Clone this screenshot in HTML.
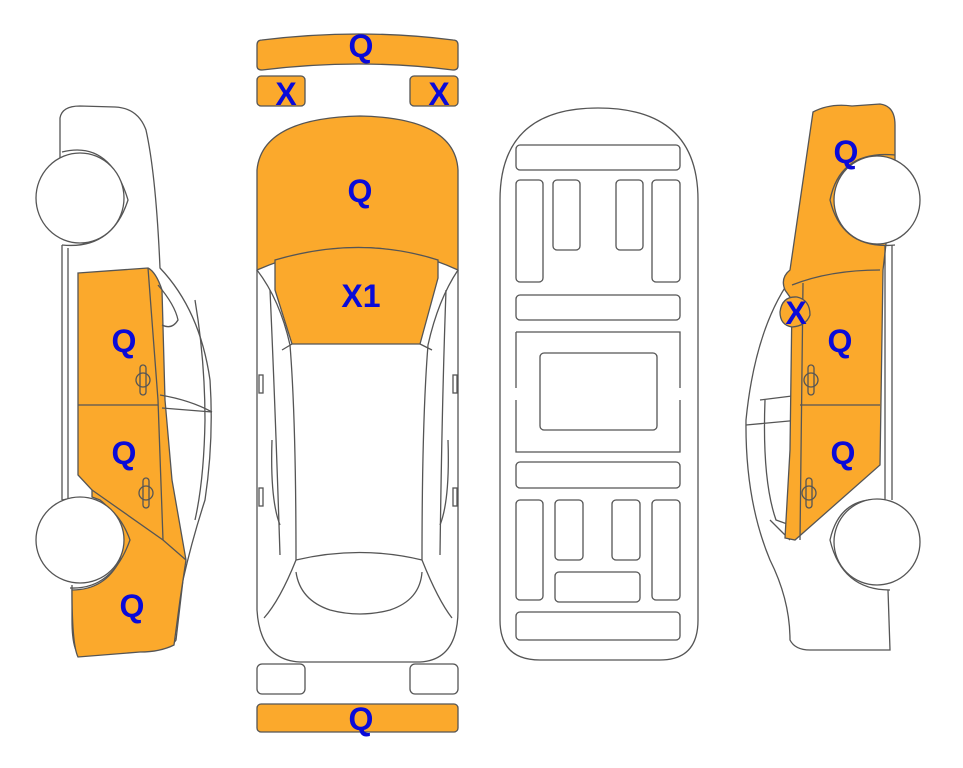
<!DOCTYPE html>
<html><head><style>
html,body{margin:0;padding:0;background:#fff;}
svg{display:block;}
text{font-family:"Liberation Sans",Arial,sans-serif;font-weight:bold;font-size:32px;fill:#0a0ad8;text-anchor:middle;}
</style></head><body>
<svg width="963" height="768" viewBox="0 0 963 768" xmlns="http://www.w3.org/2000/svg">
<g fill="none" stroke="#555" stroke-width="1.3">

<!-- ===== LEFT CAR ===== -->
<path d="M60,160 L60,118 Q62,106 80,106 L115,107 Q138,108 146,130 Q156,175 160,268 Q200,310 210,380 Q214,440 205,500 Q192,540 183,580 L176,640 Q170,650 150,650 L80,656 Q72,650 72,620 L72,585"/>
<path fill="#fba92c" d="M78,273 L148,268 Q156,272 162,290 L165,400 L172,480 L186,560 L180,600 L174,645 Q160,652 140,652 L78,657 Q72,645 72,590 Q105,590 120,560 Q126,520 100,500 L92,497 L92,490 L78,475 Z"/>
<path d="M148,268 L158,400 L163,540"/>
<path d="M78,405 L158,405"/>
<path d="M92,490 L163,540 L186,560"/>
<path d="M158,285 Q175,305 178,320 Q172,330 162,325"/>
<path d="M160,395 Q190,400 212,412 M162,408 L212,412"/>
<path d="M195,300 Q205,360 205,420 Q204,480 195,520"/>
<rect x="140" y="365" width="6" height="30" rx="3"/><path d="M136,380 a7,7 0 0 1 14,0 a7,7 0 0 1 -14,0"/>
<rect x="143" y="478" width="6" height="30" rx="3"/><path d="M139,493 a7,7 0 0 1 14,0 a7,7 0 0 1 -14,0"/>
<path d="M62,245 L62,500 M68,248 L68,500"/>
<path d="M62,152 Q110,140 128,200 Q112,250 62,245"/>
<ellipse cx="80" cy="198" rx="44" ry="45" fill="#fff"/>
<path d="M62,500 Q112,490 130,540 Q112,590 70,588"/>
<ellipse cx="80" cy="540" rx="44" ry="43" fill="#fff"/>

<!-- ===== CENTER CAR ===== -->
<path fill="#fba92c" d="M257,45 Q257,40 262,40 Q360,28 453,40 Q458,40 458,45 L458,66 Q458,70 453,70 Q360,58 262,70 Q257,70 257,66 Z"/>
<rect x="257" y="76" width="48" height="30" rx="4" fill="#fba92c"/>
<rect x="410" y="76" width="48" height="30" rx="4" fill="#fba92c"/>
<path fill="#fba92c" d="M257,270 L257,170 Q262,118 360,116 Q455,118 458,170 L458,270 Q360,225 257,270 Z"/>
<path fill="#fba92c" d="M275,260 Q360,235 438,260 L438,278 L420,344 L292,344 L275,290 Z"/>
<path d="M257,270 L257,610 Q260,660 300,662 L420,662 Q458,660 458,610 L458,270"/>
<path d="M257,270 Q280,300 290,345 Q296,420 296,560 Q280,600 264,618"/>
<path d="M458,270 Q438,300 428,345 Q422,420 422,560 Q438,600 452,618"/>
<path d="M270,290 Q275,400 280,555 M446,290 Q442,400 440,555"/>
<path d="M292,344 L282,350 M420,344 L432,350"/>
<path d="M296,560 Q360,545 422,560 M296,572 Q300,600 330,610 Q360,618 390,610 Q420,600 422,572"/>
<path d="M280,525 Q270,500 272,440 M440,525 Q450,500 448,440"/>
<rect x="259" y="375" width="4" height="18"/><rect x="453" y="375" width="4" height="18"/>
<rect x="259" y="488" width="4" height="18"/><rect x="453" y="488" width="4" height="18"/>
<rect x="257" y="664" width="48" height="30" rx="5"/>
<rect x="410" y="664" width="48" height="30" rx="5"/>
<rect x="257" y="704" width="201" height="28" rx="4" fill="#fba92c"/>

<!-- ===== FLOOR PLAN ===== -->
<path d="M500,200 Q500,108 598,108 Q698,108 698,200 L698,620 Q698,660 660,660 L540,660 Q500,660 500,620 Z"/>
<rect x="516" y="145" width="164" height="25" rx="4"/>
<rect x="516" y="180" width="27" height="102" rx="4"/>
<rect x="553" y="180" width="27" height="70" rx="4"/>
<rect x="616" y="180" width="27" height="70" rx="4"/>
<rect x="652" y="180" width="28" height="102" rx="4"/>
<rect x="516" y="295" width="164" height="25" rx="4"/>
<path d="M516,332 L680,332 L680,388 M516,332 L516,388 M516,400 L516,452 L680,452 L680,400"/>
<rect x="540" y="353" width="117" height="77" rx="4"/>
<rect x="516" y="462" width="164" height="26" rx="4"/>
<rect x="516" y="500" width="27" height="100" rx="4"/>
<rect x="555" y="500" width="28" height="60" rx="4"/>
<rect x="612" y="500" width="28" height="60" rx="4"/>
<rect x="652" y="500" width="28" height="100" rx="4"/>
<rect x="555" y="572" width="85" height="30" rx="4"/>
<rect x="516" y="612" width="164" height="28" rx="4"/>

<!-- ===== RIGHT CAR ===== -->
<path d="M790,280 Q755,330 746,420 Q745,500 770,560 Q790,600 790,640 Q795,650 810,650 L890,650 L888,590"/>
<path d="M790,540 L770,520 M760,400 L800,395 M746,425 L800,420"/>
<path d="M765,400 Q762,480 776,520 L790,525"/>
<path fill="#fba92c" d="M813,112 Q830,103 852,106 L880,104 Q895,106 895,125 L895,165 L883,270 L880,465 L795,540 L785,538 L790,450 L792,300 L785,290 Q780,278 790,270 Q800,200 813,112 Z"/>
<path d="M792,285 Q830,270 880,270 M803,283 L800,540 M800,405 L880,405"/>
<path fill="#fba92c" d="M780,312 Q782,296 797,297 Q810,300 810,315 Q806,326 792,327 Q780,325 780,312 Z"/>
<rect x="808" y="365" width="6" height="30" rx="3"/><path d="M804,380 a7,7 0 0 1 14,0 a7,7 0 0 1 -14,0"/>
<rect x="806" y="478" width="6" height="30" rx="3"/><path d="M802,493 a7,7 0 0 1 14,0 a7,7 0 0 1 -14,0"/>
<path d="M885,245 L885,500 M892,245 L892,500"/>
<path d="M895,155 Q840,150 830,200 Q842,250 895,245"/>
<ellipse cx="877" cy="200" rx="43" ry="44" fill="#fff"/>
<path d="M885,500 Q840,495 830,540 Q842,590 890,590"/>
<ellipse cx="877" cy="542" rx="43" ry="43" fill="#fff"/>
</g>

<text x="124" y="352">Q</text>
<text x="124" y="464">Q</text>
<text x="132" y="617">Q</text>
<text x="361" y="57">Q</text>
<text x="286" y="105">X</text>
<text x="439" y="105">X</text>
<text x="360" y="202">Q</text>
<text x="361" y="307">X1</text>
<text x="361" y="730">Q</text>
<text x="846" y="163">Q</text>
<text x="796" y="324">X</text>
<text x="840" y="352">Q</text>
<text x="843" y="464">Q</text>
</svg>
</body></html>
